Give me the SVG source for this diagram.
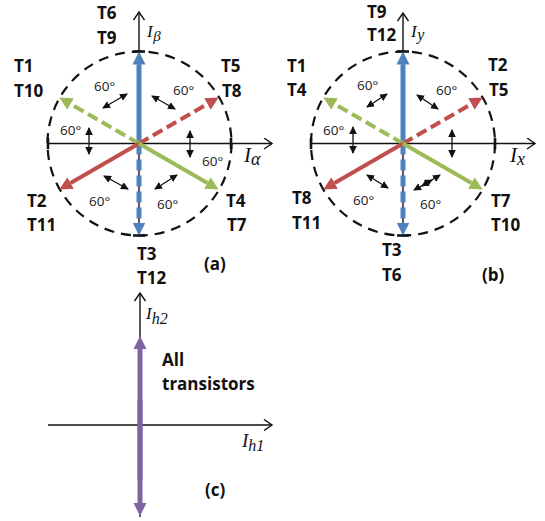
<svg xmlns="http://www.w3.org/2000/svg" width="545" height="521" viewBox="0 0 545 521">
  <style>
    .lbl { font-family: "Open Sans", "Liberation Sans", sans-serif; font-weight: bold; font-size: 17px; fill: #111; }
    .ang { font-family: "Open Sans", "Liberation Sans", sans-serif; font-size: 13.5px; fill: #222; }
    .math { font-family: "Liberation Serif", "DejaVu Serif", serif; font-style: italic; fill: #111; }
    .axis { stroke: #111; stroke-width: 1.4; fill: none; marker-end: url(#axhead); }
    .tick { stroke: #111; stroke-width: 2.6; }
    .ring { stroke: #111; stroke-width: 2.2; fill: none; stroke-dasharray: 10 7; }
    .dbl { stroke: #111; stroke-width: 1.3; marker-start: url(#sm); marker-end: url(#sm); }
    .blue { stroke: #4F81BD; stroke-width: 5; marker-end: url(#hb); }
    .red { stroke: #C0504D; stroke-width: 4; marker-end: url(#hr); }
    .green { stroke: #9BBB59; stroke-width: 4; marker-end: url(#hg); }
    .purple { stroke: #8064A2; stroke-width: 5; }
    .dash { stroke-dasharray: 11 5; }
  </style>
  <defs>
    <marker id="axhead" viewBox="-10 -6 12 12" refX="0" refY="0" markerWidth="12" markerHeight="12" markerUnits="userSpaceOnUse" orient="auto">
      <path d="M-8,-5.5 L0,0 L-8,5.5" fill="none" stroke="#111" stroke-width="1.4"/>
    </marker>
    <marker id="sm" viewBox="0 -4 8 8" refX="7" refY="0" markerWidth="8" markerHeight="8" markerUnits="userSpaceOnUse" orient="auto-start-reverse">
      <path d="M0,-3.8 L8,0 L0,3.8 z" fill="#111"/>
    </marker>
    <marker id="hb" viewBox="0 -7 14 14" refX="0" refY="0" markerWidth="14" markerHeight="14" markerUnits="userSpaceOnUse" orient="auto">
      <path d="M0,-6.5 L13,0 L0,6.5 z" fill="#4F81BD"/>
    </marker>
    <marker id="hr" viewBox="0 -7 14 14" refX="0" refY="0" markerWidth="14" markerHeight="14" markerUnits="userSpaceOnUse" orient="auto">
      <path d="M0,-6.5 L13,0 L0,6.5 z" fill="#C0504D"/>
    </marker>
    <marker id="hg" viewBox="0 -7 14 14" refX="0" refY="0" markerWidth="14" markerHeight="14" markerUnits="userSpaceOnUse" orient="auto">
      <path d="M0,-6.5 L13,0 L0,6.5 z" fill="#9BBB59"/>
    </marker>
    <marker id="hp" viewBox="0 -7 14 14" refX="0" refY="0" markerWidth="14" markerHeight="14" markerUnits="userSpaceOnUse" orient="auto">
      <path d="M0,-6.5 L13,0 L0,6.5 z" fill="#8064A2"/>
    </marker>
  </defs>

  <!-- (a) alpha-beta plane -->
  <g id="plane-a">
    <circle class="ring" cx="139.5" cy="143.5" r="92"/>
    <g id="axes-a">
      <path class="axis" d="M48,143.5 H272"/>
      <path class="axis" d="M139,235.5 V12"/>
      <path class="tick" d="M48,138 V149 M231,138 V149 M133,51.5 H145 M133,235.5 H145"/>
    </g>
    <g id="vectors-a">
      <path class="blue" d="M139,143.5 V64.5"/>
      <path class="blue dash" d="M139,143.5 V222.5"/>
      <path class="red dash" d="M139,143.5 L207.4,104"/>
      <path class="green dash" d="M139,143.5 L70.6,104"/>
      <path class="red" d="M139,143.5 L70.6,183"/>
      <path class="green" d="M139,143.5 L207.4,183"/>
    </g>
    <g id="angles-a">
      <path class="dbl" d="M103,108 L127,94"/>
      <path class="dbl" d="M152,96 L175,109"/>
      <path class="dbl" d="M89,128 V154"/>
      <path class="dbl" d="M190,131 V157"/>
      <path class="dbl" d="M104,176 L128,189"/>
      <path class="dbl" d="M155,189 L177,175"/>
      <text class="ang" x="94" y="91">60°</text>
      <text class="ang" x="173" y="95">60°</text>
      <text class="ang" x="60" y="135">60°</text>
      <text class="ang" x="202" y="166">60°</text>
      <text class="ang" x="89" y="206">60°</text>
      <text class="ang" x="157" y="209">60°</text>
    </g>
    <g id="labels-a">
      <text class="lbl" x="97" y="19">T6</text>
      <text class="lbl" x="97" y="44">T9</text>
      <text class="lbl" x="14" y="72">T1</text>
      <text class="lbl" x="14" y="97">T10</text>
      <text class="lbl" x="221" y="72">T5</text>
      <text class="lbl" x="222" y="97">T8</text>
      <text class="lbl" x="27" y="207">T2</text>
      <text class="lbl" x="27" y="231">T11</text>
      <text class="lbl" x="226" y="207">T4</text>
      <text class="lbl" x="227" y="231">T7</text>
      <text class="lbl" x="137" y="260">T3</text>
      <text class="lbl" x="137" y="284">T12</text>
      <text class="lbl" x="204" y="270">(a)</text>
      <text class="math" x="147" y="37" font-size="17">I<tspan font-size="15" dx="0.5" dy="4">β</tspan></text>
      <text class="math" x="244" y="162" font-size="21">I<tspan font-size="18" dx="0" dy="3">α</tspan></text>
    </g>
  </g>

  <!-- (b) x-y plane -->
  <g id="plane-b">
    <circle class="ring" cx="403" cy="143.5" r="92"/>
    <g id="axes-b">
      <path class="axis" d="M311,143.5 H535"/>
      <path class="axis" d="M403,235.5 V13"/>
      <path class="tick" d="M311,138 V149 M495,138 V149 M397,51.5 H409 M397,235.5 H409"/>
    </g>
    <g id="vectors-b">
      <path class="blue" d="M403,143.5 V64.5"/>
      <path class="blue dash" d="M403,143.5 V222.5"/>
      <path class="red dash" d="M403,143.5 L471.4,104"/>
      <path class="green dash" d="M403,143.5 L334.6,104"/>
      <path class="red" d="M403,143.5 L334.6,183"/>
      <path class="green" d="M403,143.5 L471.4,183"/>
    </g>
    <g id="angles-b">
      <path class="dbl" d="M367,107 L387,94"/>
      <path class="dbl" d="M417,95 L438,109"/>
      <path class="dbl" d="M353,127 V153"/>
      <path class="dbl" d="M452,130 V157"/>
      <path class="dbl" d="M367,175 L388,188"/>
      <path class="dbl" d="M414,190 L432,180"/>
      <path class="dbl" d="M422,186 L440,175"/>
      <text class="ang" x="357" y="90">60°</text>
      <text class="ang" x="436" y="95">60°</text>
      <text class="ang" x="323" y="135">60°</text>
      <text class="ang" x="353" y="205">60°</text>
      <text class="ang" x="420" y="209">60°</text>
    </g>
    <g id="labels-b">
      <text class="lbl" x="367" y="18">T9</text>
      <text class="lbl" x="367" y="41">T12</text>
      <text class="lbl" x="287" y="72">T1</text>
      <text class="lbl" x="287" y="96">T4</text>
      <text class="lbl" x="488" y="71">T2</text>
      <text class="lbl" x="489" y="96">T5</text>
      <text class="lbl" x="292" y="204">T8</text>
      <text class="lbl" x="292" y="229">T11</text>
      <text class="lbl" x="491" y="207">T7</text>
      <text class="lbl" x="491" y="231">T10</text>
      <text class="lbl" x="382" y="256">T3</text>
      <text class="lbl" x="382" y="281">T6</text>
      <text class="lbl" x="482" y="281">(b)</text>
      <text class="math" x="411" y="37" font-size="17">I<tspan font-size="16" dx="0.5" dy="3">y</tspan></text>
      <text class="math" x="510" y="162" font-size="21">I<tspan font-size="18" dx="0" dy="3">x</tspan></text>
    </g>
  </g>

  <!-- (c) homopolar plane -->
  <g id="plane-c">
    <g id="axes-c">
      <path class="axis" d="M48,425 H272"/>
      <path class="axis" d="M140,517 V293"/>
    </g>
    <g id="vectors-c">
      <path class="purple" d="M140,480 V349" marker-end="url(#hp)"/>
      <path class="purple" d="M140,400 V503" marker-end="url(#hp)"/>
    </g>
    <g id="labels-c">
      <text class="lbl" x="162" y="366">All</text>
      <text class="lbl" x="162" y="390">transistors</text>
      <text class="lbl" x="205" y="496">(c)</text>
      <text class="math" x="146" y="319" font-size="17">I<tspan font-size="16" dx="0" dy="5">h2</tspan></text>
      <text class="math" x="242" y="447" font-size="19">I<tspan font-size="16" dx="0" dy="4">h1</tspan></text>
    </g>
  </g>
</svg>
